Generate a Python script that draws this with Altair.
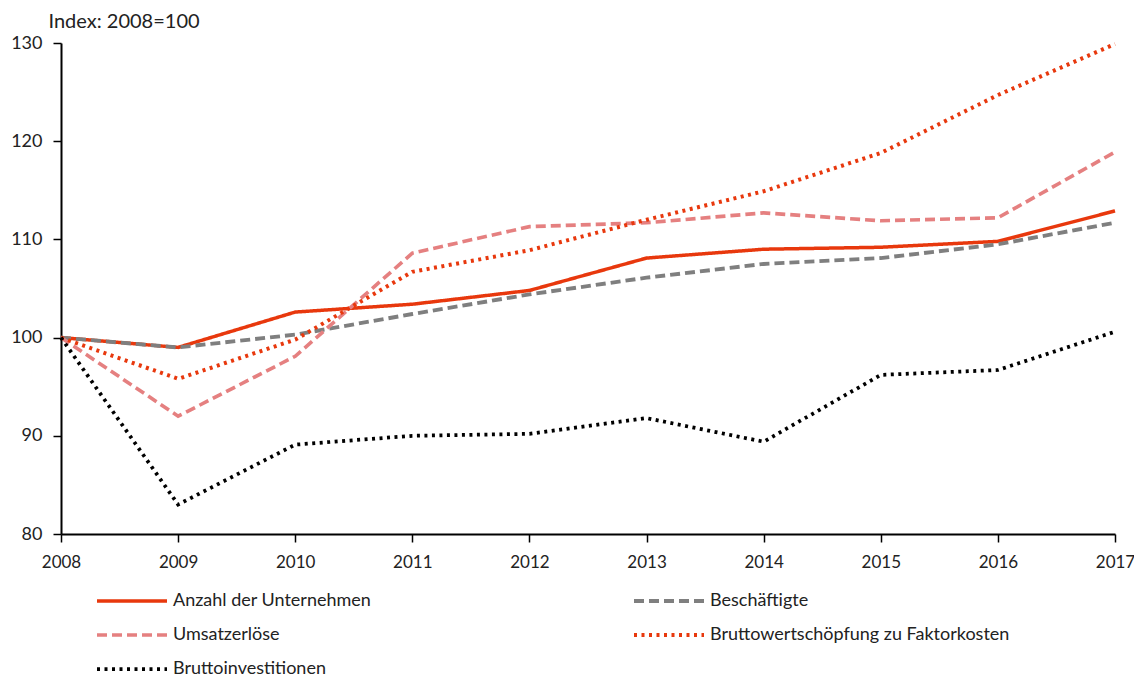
import altair as alt
import pandas as pd

years = [2008, 2009, 2010, 2011, 2012, 2013, 2014, 2015, 2016, 2017]
series_names = [
    "Anzahl der Unternehmen",
    "Beschäftigte",
    "Umsatzerlöse",
    "Bruttowertschöpfung zu Faktorkosten",
    "Bruttoinvestitionen",
]
anzahl = [100.0, 99.0, 102.6, 103.4, 104.8, 108.1, 109.0, 109.2, 109.8, 112.9]
beschaeftigte = [100.0, 99.0, 100.3, 102.4, 104.4, 106.1, 107.5, 108.1, 109.5, 111.7]
umsatz = [100.0, 92.0, 98.1, 108.6, 111.3, 111.7, 112.7, 111.9, 112.2, 118.9]
wertschoepfung = [100.0, 95.8, 99.8, 106.7, 108.9, 112.0, 114.9, 118.8, 124.7, 129.9]
investitionen = [100.0, 83.0, 89.1, 90.0, 90.2, 91.8, 89.4, 96.2, 96.7, 100.6]

# legend is filled column by column (3 rows): order so rows read as in the reference
legend_order = [
    "Anzahl der Unternehmen",
    "Umsatzerlöse",
    "Bruttoinvestitionen",
    "Beschäftigte",
    "Bruttowertschöpfung zu Faktorkosten",
]
style = {
    "Anzahl der Unternehmen": ("#E8380D", [1, 0], 3.5),
    "Beschäftigte": ("#7F7F7F", [10, 5], 4),
    "Umsatzerlöse": ("#E58080", [10, 5], 4),
    "Bruttowertschöpfung zu Faktorkosten": ("#E8380D", [3, 4.5], 3),
    "Bruttoinvestitionen": ("#000000", [3, 4.5], 3),
}
colors = [style[n][0] for n in legend_order]
dashes = [style[n][1] for n in legend_order]
widths = [style[n][2] for n in legend_order]

rows = []
for name, vals in zip(series_names, [anzahl, beschaeftigte, umsatz, wertschoepfung, investitionen]):
    for y, v in zip(years, vals):
        rows.append({"Jahr": y, "Wert": v, "Reihe": name})
df = pd.DataFrame(rows)

FONT = "Lato"
FS = 18

chart = alt.Chart(df).mark_line(strokeCap="butt", strokeJoin="miter").encode(
    x=alt.X("Jahr:Q",
            scale=alt.Scale(domain=[2008, 2017], nice=False, zero=False),
            axis=alt.Axis(values=years, format="d", title=None, grid=False, labelFlush=False,
                          domainColor="black", domainWidth=2, tickColor="black", tickWidth=1.5,
                          tickSize=8, labelFontSize=17, labelColor="#222", labelFont=FONT,
                          labelPadding=12)),
    y=alt.Y("Wert:Q",
            scale=alt.Scale(domain=[80, 130], nice=False, zero=False),
            axis=alt.Axis(values=[80, 90, 100, 110, 120, 130], title="Index: 2008=100",
                          titleAngle=0, titleAlign="left", titleBaseline="alphabetic",
                          titleX=-13, titleY=-16, titleFontSize=20, titleFontWeight="normal",
                          titleFont=FONT, titleColor="#222", labelFlush=False,
                          grid=False, domainColor="black", domainWidth=2, tickColor="black",
                          tickWidth=1.5, tickSize=8, labelFontSize=FS, labelColor="#222",
                          labelFont=FONT, labelPadding=11)),
    color=alt.Color("Reihe:N", scale=alt.Scale(domain=legend_order, range=colors),
                    sort=legend_order,
                    legend=alt.Legend(title=None, orient="none", legendX=31, legendY=549,
                                      columns=2, columnPadding=254, rowPadding=16,
                                      symbolType="M-10,0H10", symbolSize=49,
                                      symbolOffset=31,
                                      symbolStrokeWidth=3.5, labelFontSize=FS,
                                      labelFont=FONT, labelColor="#222", labelLimit=500,
                                      labelOffset=32)),
    strokeDash=alt.StrokeDash("Reihe:N", scale=alt.Scale(domain=legend_order, range=dashes),
                              sort=legend_order),
    strokeWidth=alt.StrokeWidth("Reihe:N", scale=alt.Scale(domain=legend_order, range=widths),
                                legend=None),
    order=alt.Order("Jahr:Q"),
).properties(
    width=1054,
    height=491,
    autosize=alt.AutoSizeParams(type="none"),
    padding={"left": 53, "top": 35, "right": 19, "bottom": 143},
).configure_view(stroke=None)

chart.save("out.html", embed_options={"renderer": "svg", "actions": False})
